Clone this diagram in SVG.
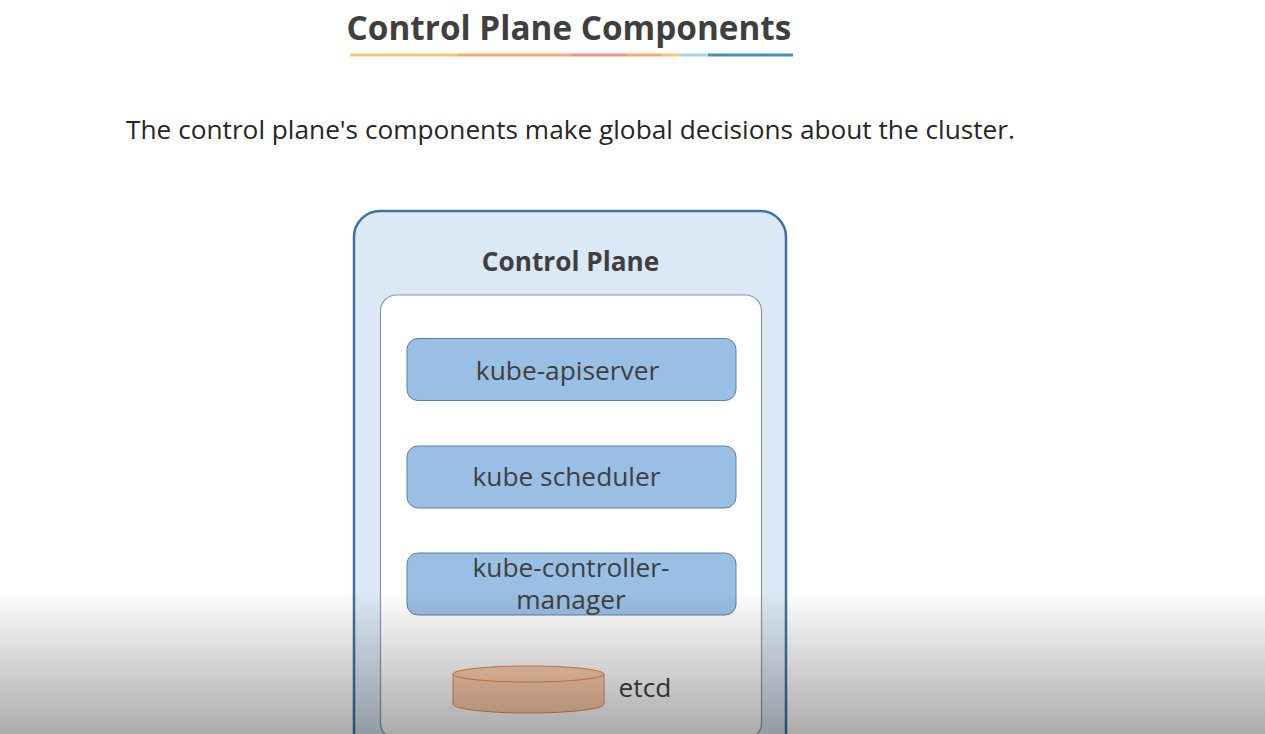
<svg xmlns="http://www.w3.org/2000/svg" width="1265" height="734" viewBox="0 0 1265 734">
<style>
text{font-family:"Open Sans","Noto Sans","Liberation Sans",sans-serif;fill:#3f3f3f;text-anchor:middle}
.box{fill:#9abfe4;stroke:#5f7f9f;stroke-width:1}
.lbl{font-size:26.300px}
.bar{stroke-width:3;fill:none}
</style>
<defs>
<linearGradient id="shade" x1="0" y1="0" x2="0" y2="1">
<stop offset="0" stop-color="#000" stop-opacity="0"/>
<stop offset="1" stop-color="#000" stop-opacity="0.33"/>
</linearGradient>
</defs>
<rect width="1265" height="734" fill="#fff"/>
<g id="title">
<text x="569" y="39.500" font-size="33.300" font-weight="700">Control Plane Components</text>
<path class="bar" stroke="#f8c77e" d="M350 55H458"/>
<path class="bar" stroke="#f4a873" d="M458 55H571"/>
<path class="bar" stroke="#ef9482" d="M571 55H627"/>
<path class="bar" stroke="#f4a873" d="M627 55H662"/>
<path class="bar" stroke="#f8c77e" d="M662 55H680"/>
<path class="bar" stroke="#a5d3e8" d="M680 55H708"/>
<path class="bar" stroke="#4a8eb5" d="M708 55H793"/>
</g>
<text id="subtitle" x="570.500" y="138.500" font-size="26.230" style="fill:#262626">The control plane's components make global decisions about the cluster.</text>
<g id="control-plane">
<rect x="354" y="211" width="432" height="560" rx="26" fill="#dbe8f5" stroke="#3f72a3" stroke-width="2.500"/>
<text x="570.500" y="271" font-size="26.200" font-weight="700">Control Plane</text>
</g>
<g id="inner-panel">
<rect x="380.500" y="295" width="381" height="444" rx="16" fill="#fff" stroke="#8898ab" stroke-width="1.200"/>
</g>
<g id="kube-apiserver">
<rect class="box" x="407" y="338.500" width="329" height="62" rx="11"/>
<text class="lbl" x="567.500" y="380">kube-apiserver</text>
</g>
<g id="kube-scheduler">
<rect class="box" x="407" y="446" width="329" height="62" rx="11"/>
<text class="lbl" x="566.500" y="486">kube scheduler</text>
</g>
<g id="kube-controller-manager">
<rect class="box" x="407" y="553" width="329" height="62" rx="11"/>
<text class="lbl" x="571" y="577">kube-controller-</text>
<text class="lbl" x="571" y="608.500">manager</text>
</g>
<g id="etcd">
<path d="M453 674V704C453 709 487 713 528.500 713S604 709 604 704V674Z" fill="#fccdab" stroke="#e8884a" stroke-width="1"/>
<ellipse cx="528.500" cy="674" rx="75.500" ry="8" fill="#ffd0ae" stroke="#e8884a" stroke-width="1"/>
<text class="lbl" x="645" y="696.500">etcd</text>
</g>
<g id="connectors"/>
<rect id="video-shade" x="0" y="590" width="1265" height="144" fill="url(#shade)"/>
</svg>
